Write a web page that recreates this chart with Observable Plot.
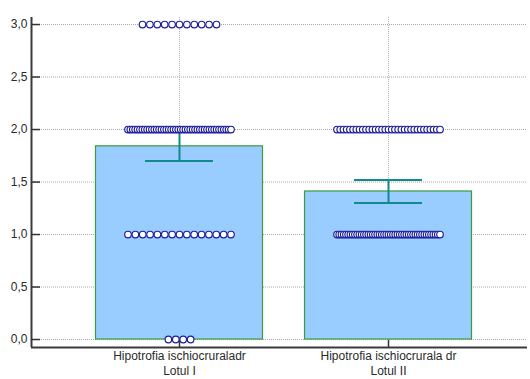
<!DOCTYPE html>
<html>
<head>
<meta charset="utf-8">
<script src="https://cdn.jsdelivr.net/npm/d3@7"></script>
<script src="https://cdn.jsdelivr.net/npm/@observablehq/plot@0.6"></script>
<style>
  html, body { margin: 0; padding: 0; background: #fff; }
  #chart svg { display: block; }
</style>
</head>
<body>
<div id="chart"></div>
<script>
// Categories (x tick labels)
const groups = ["Hipotrofia ischiocruraladr\nLotul I", "Hipotrofia ischiocrurala dr\nLotul II"];
// Bar heights (means) and error bar limits
const means = [1.84, 1.41];
const errLow = [1.70, 1.30];
const errHigh = [1.98, 1.52];
// Individual observations: counts per score level
const levels = [0, 1, 2, 3];
const countsLotI = [4, 15, 44, 11];
const countsLotII = [0, 47, 33, 0];
// Y tick values
const yTicks = [0, 0.5, 1, 1.5, 2, 2.5, 3];

const W = 530, H = 379;
const mL = 31, mR = 3, mT = 17, mB = 32;
const xDomain = [0.2919, 2.665];
const pxPerUnit = (W - mL - mR) / (xDomain[1] - xDomain[0]);

const barData = groups.map((g, i) => ({pos: i + 1, mean: means[i], lo: errLow[i], hi: errHigh[i]}));

// Spread the observations horizontally in rows (dot-plot layout)
const points = [];
[countsLotI, countsLotII].forEach((counts, gi) => {
  counts.forEach((n, li) => {
    if (!n) return;
    const stepPx = n > 1 ? Math.min(7.4, 103 / (n - 1)) : 0;
    for (let k = 0; k < n; k++) {
      points.push({x: gi + 1 + ((k - (n - 1) / 2) * stepPx) / pxPerUnit, y: levels[li]});
    }
  });
});

const half = 83.5 / pxPerUnit;
const capHalf = 34 / pxPerUnit;
const fmt = d => d.toFixed(1).replace(".", ",");

const chart = Plot.plot({
  width: W,
  height: H,
  marginLeft: mL,
  marginRight: mR,
  marginTop: mT,
  marginBottom: mB,
  style: {fontFamily: "'Liberation Sans', Arial, sans-serif", fontSize: "12px", color: "#222", background: "#fff"},
  x: {type: "linear", domain: xDomain},
  y: {domain: [-0.076, 3.067]},
  marks: [
    // horizontal dotted gridlines
    Plot.ruleY(yTicks, {stroke: "#a8a8a8", strokeWidth: 1, strokeDasharray: "1,1"}),
    // vertical dotted gridlines at category centres
    Plot.ruleX([1, 2], {stroke: "#b4b4b4", strokeWidth: 1, strokeDasharray: "1,1"}),
    // bars
    Plot.rect(barData, {x1: d => d.pos - half, x2: d => d.pos + half, y1: 0, y2: "mean", fill: "#99ccff", stroke: "#3d9a3d", strokeWidth: 1.2}),
    // error bars
    Plot.ruleX(barData, {x: "pos", y1: "lo", y2: "hi", stroke: "#12898c", strokeWidth: 2}),
    Plot.ruleY(barData, {y: "lo", x1: d => d.pos - capHalf, x2: d => d.pos + capHalf, stroke: "#12898c", strokeWidth: 2}),
    Plot.ruleY(barData, {y: "hi", x1: d => d.pos - capHalf, x2: d => d.pos + capHalf, stroke: "#12898c", strokeWidth: 2}),
    // observations
    Plot.dot(points, {x: "x", y: "y", r: 3.3, fill: "white", stroke: "#1f1f9a", strokeWidth: 1.2}),
    // axis lines
    Plot.ruleX([xDomain[0]], {stroke: "#3a3a3a", strokeWidth: 2}),
    Plot.ruleY([-0.076], {stroke: "#3a3a3a", strokeWidth: 2}),
    // inward tick marks
    Plot.tickY(yTicks, {y: d => d, insetRight: W - mL - mR - 9, stroke: "#333", strokeWidth: 1.5}),
    Plot.tickX([1, 2], {x: d => d, insetTop: H - mT - mB - 7, stroke: "#333", strokeWidth: 1.5}),
    // axes labels
    Plot.axisY(yTicks, {tickSize: 0, tickPadding: 4, tickFormat: fmt, label: null, fill: "#2a2a2a"}),
    Plot.axisX([1, 2], {tickSize: 0, tickPadding: 2, tickFormat: d => groups[d - 1], label: null, lineHeight: 1.25, fill: "#2a2a2a"})
  ]
});
document.getElementById("chart").appendChild(chart);
</script>
</body>
</html>
